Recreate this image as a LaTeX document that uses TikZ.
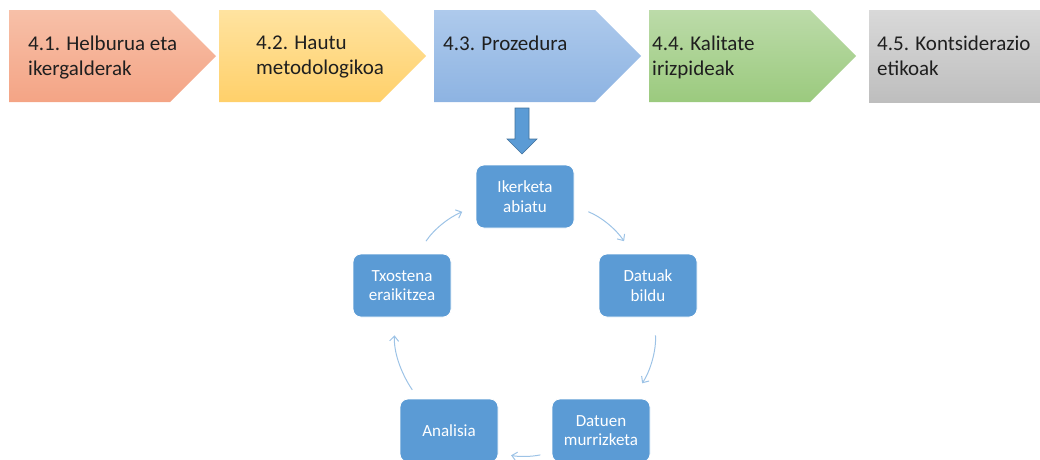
\documentclass[tikz,border=0pt]{standalone}
\usepackage{fontspec}
\setmainfont{Carlito}
\usetikzlibrary{arrows.meta}
\usetikzlibrary{calc}
\usetikzlibrary{positioning}

\definecolor{redtop}{HTML}{F7C0A8}
\definecolor{redbot}{HTML}{F4A485}
\definecolor{yeltop}{HTML}{FFE3A0}
\definecolor{yelbot}{HTML}{FFD06A}
\definecolor{blutop}{HTML}{AECAEC}
\definecolor{blubot}{HTML}{8DB3E2}
\definecolor{grntop}{HTML}{BCDBA9}
\definecolor{grnbot}{HTML}{9BCA7E}
\definecolor{grytop}{HTML}{D9D9D9}
\definecolor{grybot}{HTML}{BEBEBE}
\definecolor{cycblue}{HTML}{5B9BD5}
\definecolor{arrowblue}{HTML}{9DC3E6}
\definecolor{arrowedge}{HTML}{41719C}
\definecolor{textgray}{HTML}{1F1F1F}

\begin{document}
\begin{tikzpicture}[x=1pt,y=-1pt,
    stepbox/.style={inner sep=0pt, anchor=north west, align=left, text=textgray,
      font=\fontsize{21}{24.5}\selectfont},
    cyclebox/.style={fill=cycblue, draw=white, line width=0.8pt, rounded corners=8pt,
      minimum width=98pt, minimum height=63pt, text=white, align=center,
      font=\fontsize{17}{19.5}\selectfont},
    cycarrow/.style={draw=arrowblue, line width=1pt,
      -{Straight Barb[length=5pt,width=9pt]}}]
  \useasboundingbox (0,0) rectangle (1040,459);
  \def\shoulder{161}
  \def\tipx{46}

  % process steps along the top
  \foreach \xl/\dx/\nm/\ct/\cb/\txt in {
      9/19/helburua/redtop/redbot/{4.1. Helburua eta\\ikergalderak},
      219/37/hautu/yeltop/yelbot/{4.2. Hautu\\metodologikoa},
      434/9/prozedura/blutop/blubot/{4.3. Prozedura},
      649/3/kalitate/grntop/grnbot/{4.4. Kalitate\\irizpideak}}{
    \shade[top color=\ct, bottom color=\cb] (\xl,10) -- ++(\shoulder,0)
      -- ++(\tipx,\tipx) -- ++(-\tipx,\tipx) -- ++(-\shoulder,0) -- cycle;
    \node[stepbox] (\nm) at (\xl+\dx,36) {\txt};
  }
  \shade[top color=grytop, bottom color=grybot] (869,10) rectangle (1045,102);
  \node[stepbox] (etika) at (877,36) {4.5. Kontsiderazio\\etikoak};

  % block arrow down to the cycle
  \filldraw[fill=cycblue, draw=arrowedge, line width=0.6pt]
    (515,108) -- (529,108) -- (529,139) -- (537,139) -- (522,154)
    -- (507,139) -- (515,139) -- cycle;

  % cycle
  \node[cyclebox] (ikerketa) at (525,196.5) {Ikerketa\\abiatu};
  \node[cyclebox] (datuak) at (648,285.5) {Datuak\\bildu};
  \node[cyclebox] (murrizketa) at (601,430.5) {Datuen\\murrizketa};
  \node[cyclebox] (analisia) at (449,430.5) {Analisia};
  \node[cyclebox] (txostena) at (402,285.5) {Txostena\\eraikitzea};

  \draw[cycarrow, shorten <=15pt, shorten >=15pt]
    (ikerketa.-11) to[out=-22, in=124] (datuak.116);
  \draw[cycarrow, shorten <=18pt, shorten >=18.5pt]
    (datuak.-79) to[out=-86, in=56] (murrizketa.46);
  \draw[cycarrow, shorten <=11.5pt, shorten >=13pt]
    (murrizketa.-156) to[out=-168, in=-12.5] (analisia.-24);
  \draw[cycarrow, shorten <=10.5pt, shorten >=18pt]
    (analisia.134.5) to[out=124, in=-94] (txostena.-101);
  \draw[cycarrow, shorten <=15pt, shorten >=14.5pt]
    (txostena.64) to[out=56, in=-157] (ikerketa.191.5);
\end{tikzpicture}
\end{document}
